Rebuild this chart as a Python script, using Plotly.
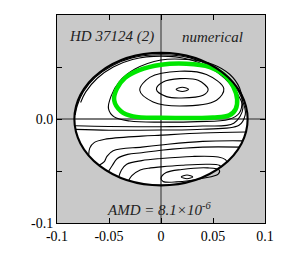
import plotly.graph_objects as go

# ---- data (phase plane, AMD-limited region) ----
boundary_x = [-0.0833, 0.0833]
boundary_y = [-0.0638, 0.0636]

tiny_up_x = [0.0145, 0.0205, 0.0265, 0.0205, 0.0145]
tiny_up_y = [0.0285, 0.0305, 0.0285, 0.0265, 0.0285]

orb1_x = [-0.0044, 0.002, 0.018, 0.0357, 0.0453, 0.0405, 0.0197, 0.0053, -0.0044]
orb1_y = [0.0285, 0.0356, 0.0388, 0.0372, 0.0285, 0.0228, 0.0202, 0.0215, 0.0285]

orb2_x = [-0.0204, -0.0108, 0.018, 0.0437, 0.0604, 0.0534, 0.018, -0.0076, -0.0204]
orb2_y = [0.0276, 0.040, 0.0459, 0.0427, 0.0292, 0.018, 0.0125, 0.0164, 0.0276]

green_x = [-0.045, -0.0425, -0.0345, -0.0215, 0.0, 0.0245, 0.047, 0.0605, 0.0695, 0.0732,
           0.0718, 0.0655, 0.05, 0.0, -0.0268, -0.0385, -0.045]
green_y = [0.0180, 0.0290, 0.0395, 0.0468, 0.0522, 0.0532, 0.050, 0.0425, 0.031, 0.019,
           0.0095, 0.0035, 0.0015, 0.0012, 0.0025, 0.0075, 0.0180]

orbA_x = [-0.0505, -0.048, -0.040, -0.025, 0.0, 0.025, 0.05, 0.066, 0.0755, 0.078,
          0.0755, 0.065, 0.035, 0.0, -0.03, -0.045, -0.0505]
orbA_y = [0.010, 0.022, 0.036, 0.048, 0.0567, 0.0572, 0.0525, 0.043, 0.030, 0.018,
          0.006, -0.0005, -0.0025, -0.003, -0.002, 0.002, 0.010]

orbB_x = [-0.0829, -0.05, 0.0, 0.04, 0.07, 0.0788, 0.0725, 0.0613, 0.0459, 0.0274, 0.0,
          -0.0274, -0.0459, -0.0613, -0.0725, -0.0773]
orbB_y = [-0.0065, -0.0072, -0.0074, -0.0068, -0.004, 0.0106, 0.0258, 0.0392, 0.050, 0.0573, 0.0605,
          0.0573, 0.050, 0.0392, 0.0258, 0.0158]

orbC_x = [-0.0826, -0.05, 0.0, 0.04, 0.075, 0.081, 0.0805, 0.0745, 0.063, 0.047, 0.028, 0.0,
          -0.028, -0.047, -0.063, -0.0745, -0.0805, -0.0825]
orbC_y = [-0.0100, -0.0108, -0.0106, -0.0098, -0.006, 0.004, 0.011, 0.0265, 0.0403, 0.0513, 0.0588, 0.0618,
          0.0588, 0.0513, 0.0403, 0.0265, 0.013, 0.004]

low2_x = [-0.0695, -0.0685, -0.064, -0.054, -0.0185, 0.0, 0.04, 0.0816]
low2_y = [-0.035, -0.028, -0.0225, -0.0195, -0.0165, -0.0155, -0.0135, -0.0125]

low3_x = [-0.0595, -0.0545, -0.052, -0.046, -0.0185, 0.0, 0.04, 0.0785]
low3_y = [-0.0445, -0.041, -0.036, -0.0305, -0.027, -0.025, -0.0215, -0.021]

low4_x = [-0.0505, -0.047, -0.042, -0.032, -0.0185, 0.0, 0.04, 0.0755]
low4_y = [-0.0505, -0.045, -0.038, -0.034, -0.0325, -0.030, -0.027, -0.027]

low5_x = [-0.0405, -0.038, -0.033, -0.0185, 0.0, 0.03, 0.055, 0.062, 0.0635]
low5_y = [-0.0555, -0.049, -0.0435, -0.040, -0.038, -0.036, -0.0365, -0.039, -0.0415]

low6_x = [-0.031, -0.028, -0.02, -0.01, 0.0, 0.02, 0.045, 0.056, 0.058]
low6_y = [-0.059, -0.0545, -0.049, -0.047, -0.046, -0.0445, -0.0435, -0.0445, -0.0465]

low7_x = [0.0, 0.005, 0.02, 0.045, 0.056, 0.055, 0.04, 0.015, 0.002, 0.0]
low7_y = [-0.057, -0.0515, -0.0485, -0.047, -0.049, -0.053, -0.057, -0.0605, -0.060, -0.057]

tiny_lo_x = [0.0195, 0.025, 0.0305, 0.025, 0.0195]
tiny_lo_y = [-0.0557, -0.0539, -0.0557, -0.0575, -0.0557]

x_tickvals = [-0.1, -0.05, 0, 0.05, 0.1]
x_ticktext = ["-0.1", "-0.05", "0", "0.05", "0.1"]
y_tickvals = [-0.1, 0, 0.1]
y_ticktext = ["-0.1", "0.0", "0.1"]

label_title = "<i>HD 37124 (2)</i>"
label_kind = "<i>numerical</i>"
label_amd = "<i>AMD = 8.1×10<sup>-6</sup></i>"

fig = go.Figure()

black_curves = [
    (orbC_x, orbC_y), (orbB_x, orbB_y), (orbA_x, orbA_y),
    (orb2_x, orb2_y), (orb1_x, orb1_y), (tiny_up_x, tiny_up_y),
    (low2_x, low2_y), (low3_x, low3_y), (low4_x, low4_y), (low5_x, low5_y),
    (low6_x, low6_y), (low7_x, low7_y), (tiny_lo_x, tiny_lo_y),
]
for cx, cy in black_curves:
    fig.add_trace(go.Scatter(x=cx, y=cy, mode="lines",
                             line=dict(color="black", width=1.1, shape="spline", smoothing=1.0),
                             hoverinfo="skip", showlegend=False))

fig.add_trace(go.Scatter(x=green_x, y=green_y, mode="lines",
                         line=dict(color="#00e600", width=4.5, shape="spline", smoothing=1.0),
                         hoverinfo="skip", showlegend=False))

fig.add_shape(type="circle", xref="x", yref="y",
              x0=boundary_x[0], x1=boundary_x[1], y0=boundary_y[0], y1=boundary_y[1],
              fillcolor="white", line=dict(color="white", width=0), layer="below")
fig.add_shape(type="circle", xref="x", yref="y",
              x0=boundary_x[0], x1=boundary_x[1], y0=boundary_y[0], y1=boundary_y[1],
              fillcolor="rgba(0,0,0,0)", line=dict(color="black", width=2.1), layer="above")

font_ser = "Liberation Serif, Times New Roman, serif"
fig.add_annotation(x=-0.048, y=0.079, text=label_title, showarrow=False,
                   font=dict(family=font_ser, size=15, color="#222"))
fig.add_annotation(x=0.0496, y=0.079, text=label_kind, showarrow=False,
                   font=dict(family=font_ser, size=15, color="#222"))
fig.add_annotation(x=-0.002, y=-0.087, text=label_amd, showarrow=False,
                   font=dict(family=font_ser, size=15, color="#222"))

axis_common = dict(range=[-0.1, 0.1], showgrid=False, zeroline=True, automargin=False,
                   zerolinecolor="#7a7a7a", zerolinewidth=1.5,
                   showline=True, linecolor="black", linewidth=1, mirror="ticks",
                   ticks="inside", ticklen=5, tickcolor="black", tickwidth=1,
                   minor=dict(dtick=0.05, tick0=0, ticks="inside", ticklen=5,
                              tickcolor="black", tickwidth=1, showgrid=False),
                   tickfont=dict(family=font_ser, size=14, color="black"))

fig.update_xaxes(tickvals=x_tickvals, ticktext=x_ticktext, **axis_common)
fig.update_yaxes(tickvals=y_tickvals, ticktext=y_ticktext, **axis_common)

fig.update_layout(width=294, height=253, margin=dict(l=49, r=37, t=7, b=38),
                  plot_bgcolor="#c9c9c9", paper_bgcolor="white", showlegend=False)

fig.write_html("out.html")
